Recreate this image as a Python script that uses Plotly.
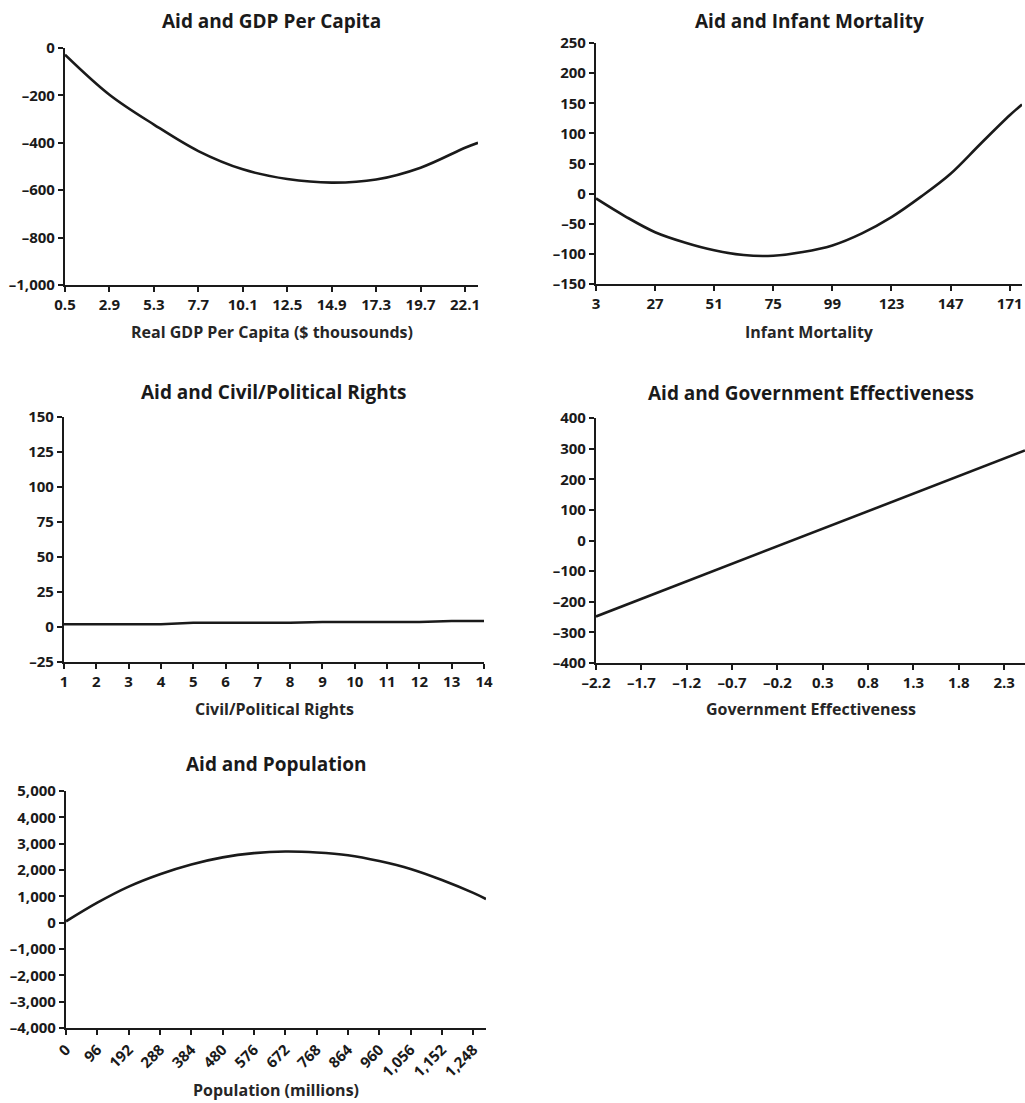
import plotly.graph_objects as go

W, H = 1025, 1103

# ---- data ----
gdp_x = [0.5, 2.9, 5.3, 7.7, 10.1, 12.5, 14.9, 17.3, 19.7, 22.1, 22.8]
gdp_y = [-28, -197, -323, -435, -512, -553, -568, -555, -505, -421, -400]
gdp_xticks = [0.5, 2.9, 5.3, 7.7, 10.1, 12.5, 14.9, 17.3, 19.7, 22.1]
gdp_yticks = [0, -200, -400, -600, -800, -1000]

inf_x = [3, 15, 27, 39, 51, 63, 75, 87, 99, 111, 123, 135, 147, 159, 171, 176]
inf_y = [-8, -38, -64, -81, -94, -102, -103, -97, -86, -66, -39, -5, 33, 82, 130, 148]
inf_xticks = [3, 27, 51, 75, 99, 123, 147, 171]
inf_yticks = [250, 200, 150, 100, 50, 0, -50, -100, -150]

civ_x = list(range(1, 15))
civ_y = [2, 2, 2, 2, 3, 3, 3, 3, 3.6, 3.6, 3.6, 3.6, 4.3, 4.3]
civ_yticks = [150, 125, 100, 75, 50, 25, 0, -25]

gov_x = [-2.2, 2.53]
gov_y = [-248, 294]
gov_xticks = [-2.2, -1.7, -1.2, -0.7, -0.2, 0.3, 0.8, 1.3, 1.8, 2.3]
gov_yticks = [400, 300, 200, 100, 0, -100, -200, -300, -400]

pop_x = [0, 96, 192, 288, 384, 480, 576, 672, 768, 864, 960, 1056, 1152, 1248, 1287]
pop_y = [50, 760, 1370, 1840, 2210, 2480, 2640, 2700, 2665, 2560, 2340, 2040, 1620, 1130, 900]
pop_xticks = [0, 96, 192, 288, 384, 480, 576, 672, 768, 864, 960, 1056, 1152, 1248]
pop_yticks = [5000, 4000, 3000, 2000, 1000, 0, -1000, -2000, -3000, -4000]


def fmt(v):
    s = f"{abs(v):,}"
    return ("\u2013" + s) if v < 0 else s


FONT = "Open Sans"
INK = "#1a1a1a"

# panel frames in pixels: (left, right), (top, bottom), plus data ranges
panels = [
    dict(x=gdp_x, y=gdp_y, xt=gdp_xticks, yt=gdp_yticks, px=(65, 478), py=(48, 285),
         xr=[0.5, 22.8], yr=[-1000, 0], title="Aid and GDP Per Capita", ty=21,
         xlabel="Real GDP Per Capita ($ thousounds)", ly=332, shape="spline"),
    dict(x=inf_x, y=inf_y, xt=inf_xticks, yt=inf_yticks, px=(596, 1022), py=(43, 284),
         xr=[3, 176], yr=[-150, 250], title="Aid and Infant Mortality", ty=21,
         xlabel="Infant Mortality", ly=332, shape="spline"),
    dict(x=civ_x, y=civ_y, xt=civ_x, yt=civ_yticks, px=(64, 484), py=(417, 662),
         xr=[1, 14], yr=[-25, 150], title="Aid and Civil/Political Rights", ty=392,
         xlabel="Civil/Political Rights", ly=709, shape="linear"),
    dict(x=gov_x, y=gov_y, xt=gov_xticks, yt=gov_yticks, px=(596, 1025), py=(418, 663),
         xr=[-2.2, 2.53], yr=[-400, 400], title="Aid and Government Effectiveness", ty=393,
         xlabel="Government Effectiveness", ly=709, shape="linear"),
    dict(x=pop_x, y=pop_y, xt=pop_xticks, yt=pop_yticks, px=(66, 486), py=(791, 1028),
         xr=[0, 1287], yr=[-4000, 5000], title="Aid and Population", ty=764,
         xlabel="Population (millions)", ly=1090, shape="spline", rot=True),
]

fig = go.Figure()
annotations = []
for i, p in enumerate(panels, start=1):
    xa = "x" if i == 1 else f"x{i}"
    ya = "y" if i == 1 else f"y{i}"
    fig.add_trace(go.Scatter(x=p["x"], y=p["y"], mode="lines", xaxis=xa, yaxis=ya,
                             line=dict(color=INK, width=2.6, shape=p["shape"], smoothing=1.0),
                             showlegend=False, hoverinfo="skip", cliponaxis=False))
    l, r = p["px"]
    t, b = p["py"]
    xkey = "xaxis" if i == 1 else f"xaxis{i}"
    ykey = "yaxis" if i == 1 else f"yaxis{i}"
    tick_font = dict(family=FONT, size=15, color=INK, weight="bold")
    common = dict(showline=True, linecolor=INK, linewidth=2.2, ticks="outside",
                  ticklen=5, tickwidth=2, tickcolor=INK, showgrid=False, zeroline=False,
                  tickfont=tick_font, fixedrange=True, automargin=False)
    fig.update_layout({
        xkey: dict(domain=[l / W, r / W], range=p["xr"], anchor=ya,
                   tickvals=p["xt"], ticktext=[fmt(v) for v in p["xt"]],
                   tickangle=-45 if p.get("rot") else 0, **common),
        ykey: dict(domain=[1 - b / H, 1 - t / H], range=p["yr"], anchor=xa,
                   tickvals=p["yt"], ticktext=[fmt(v) for v in p["yt"]], **common),
    })
    cx = (l + r) / 2 / W
    annotations.append(dict(text=p["title"], x=cx, y=1 - p["ty"] / H, xref="paper", yref="paper",
                            xanchor="center", yanchor="middle", showarrow=False,
                            font=dict(family=FONT, size=19, color=INK, weight="bold")))
    annotations.append(dict(text=p["xlabel"], x=cx, y=1 - p["ly"] / H, xref="paper", yref="paper",
                            xanchor="center", yanchor="middle", showarrow=False,
                            font=dict(family=FONT, size=16, color="#262626", weight="bold")))

fig.update_layout(width=W, height=H, margin=dict(l=0, r=0, t=0, b=0),
                  paper_bgcolor="white", plot_bgcolor="white",
                  annotations=annotations)

fig.write_html("out.html")
